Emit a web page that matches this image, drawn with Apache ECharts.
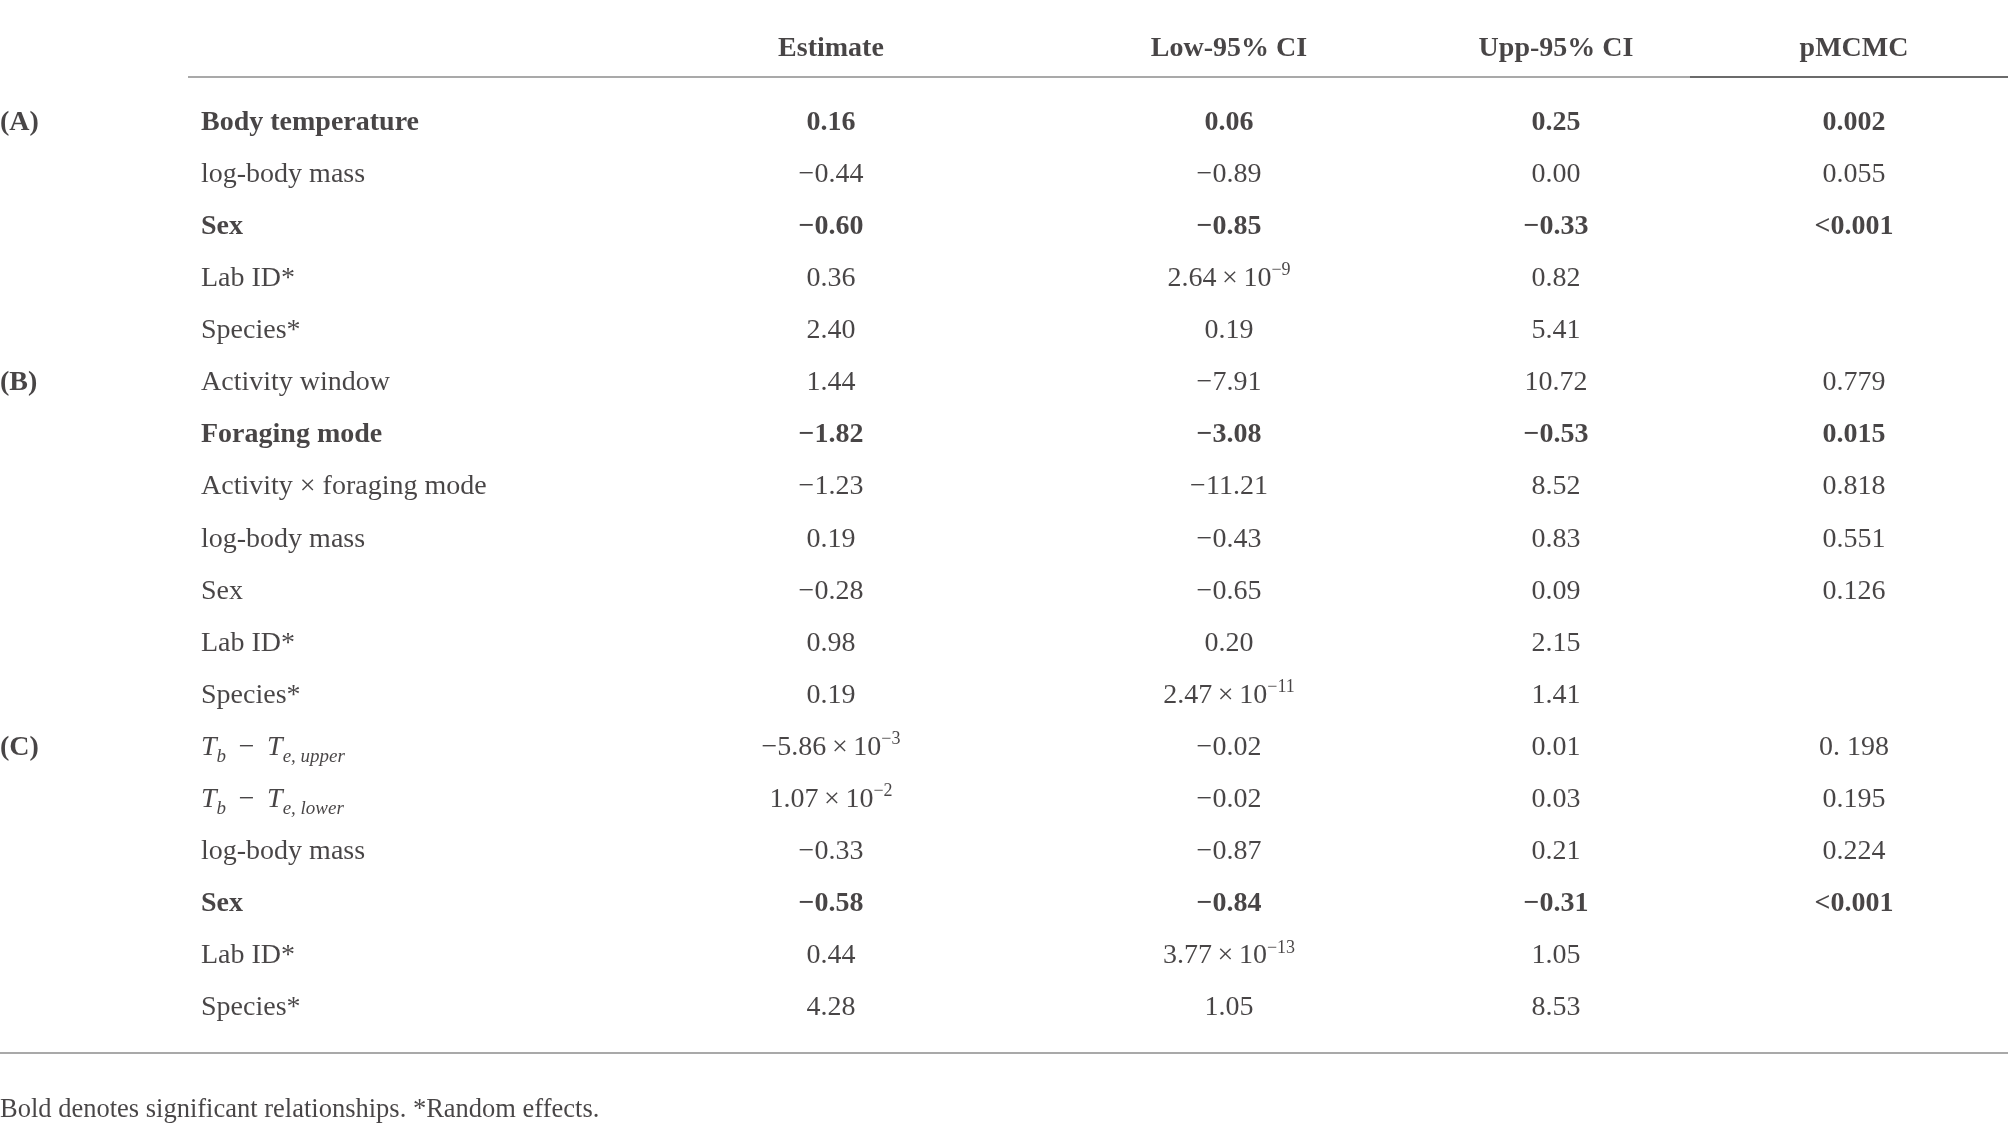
<!DOCTYPE html>
<html>
<head>
<meta charset="utf-8">
<script src="https://cdn.jsdelivr.net/npm/echarts@6/dist/echarts.min.js"></script>
<style>
  html, body { margin: 0; padding: 0; background: #fff; }
  #chart { width: 2008px; height: 1129px; }
</style>
</head>
<body>
<div id="chart"></div>
<script>
// table contents
const headers = ['Estimate', 'Low-95% CI', 'Upp-95% CI', 'pMCMC']
const groups = ['(A)', '', '', '', '', '(B)', '', '', '', '', '', '', '(C)', '', '', '', '', '']
const terms = ['Body temperature', 'log-body mass', 'Sex', 'Lab ID*', 'Species*',
  'Activity window', 'Foraging mode', 'Activity × foraging mode', 'log-body mass', 'Sex', 'Lab ID*', 'Species*',
  'T_b − T_e, upper', 'T_b − T_e, lower', 'log-body mass', 'Sex', 'Lab ID*', 'Species*']
const estimate = ['0.16', '−0.44', '−0.60', '0.36', '2.40', '1.44', '−1.82', '−1.23', '0.19', '−0.28', '0.98', '0.19',
  '−5.86\u2009×\u200910^−3', '1.07\u2009×\u200910^−2', '−0.33', '−0.58', '0.44', '4.28']
const lowCI = ['0.06', '−0.89', '−0.85', '2.64\u2009×\u200910^−9', '0.19', '−7.91', '−3.08', '−11.21', '−0.43', '−0.65', '0.20',
  '2.47\u2009×\u200910^−11', '−0.02', '−0.02', '−0.87', '−0.84', '3.77\u2009×\u200910^−13', '1.05']
const uppCI = ['0.25', '0.00', '−0.33', '0.82', '5.41', '10.72', '−0.53', '8.52', '0.83', '0.09', '2.15', '1.41',
  '0.01', '0.03', '0.21', '−0.31', '1.05', '8.53']
const pMCMC = ['0.002', '0.055', '<0.001', '', '', '0.779', '0.015', '0.818', '0.551', '0.126', '', '',
  '0. 198', '0.195', '0.224', '<0.001', '', '']
const boldRows = [0, 2, 6, 15]
const footnote = 'Bold denotes significant relationships. *Random effects.'

// layout (pixels across, rows down)
const colX = [0, 201, 831, 1229, 1556, 1854]
const colAlign = ['left', 'left', 'center', 'center', 'center', 'center']
const headerRow = -1.41
const footRow = 18.95

const font = '"Liberation Serif", "DejaVu Serif", serif'
const ink = '#1a1718'
const fs = 28

const rich = {
  n: { fontFamily: font, fontSize: fs, color: ink, lineHeight: 34 },
  b: { fontFamily: font, fontSize: fs, color: ink, lineHeight: 34, fontWeight: 'bold' },
  it: { fontFamily: font, fontSize: fs, color: ink, lineHeight: 34, fontStyle: 'italic' },
  sup: { fontFamily: font, fontSize: 18, color: ink, lineHeight: 34, verticalAlign: 'top' },
  sub: { fontFamily: font, fontSize: 19, color: ink, lineHeight: 38, verticalAlign: 'bottom', fontStyle: 'italic' },
  f: { fontFamily: font, fontSize: 26.5, color: ink, lineHeight: 34 }
}

function fmt (s, bold) {
  const n = bold ? 'b' : 'n'
  if (!s) return ''
  if (s.indexOf('^') >= 0) {
    const [base, exp] = s.split('^')
    return '{' + n + '|' + base + '}{sup|' + exp + '}'
  }
  if (s.indexOf('_') >= 0) {
    return s.split(' − ').map(p => {
      const [v, sub] = p.split('_')
      return '{it|' + v + '}{sub|' + sub + '}'
    }).join('{' + n + '| \u2009−\u2009 }')
  }
  return '{' + n + '|' + s + '}'
}

const columns = [groups, terms, estimate, lowCI, uppCI, pMCMC]

function textSeries (name, points, align) {
  return {
    name,
    type: 'scatter',
    symbolSize: 0,
    silent: true,
    animation: false,
    data: points,
    label: {
      show: true,
      position: 'inside',
      align,
      verticalAlign: 'middle',
      offset: [0, 2],
      formatter: p => p.data.text,
      rich
    }
  }
}

const series = columns.map((col, c) => textSeries('col' + c,
  col.map((s, i) => ({
    value: [colX[c], i],
    text: fmt(s, c === 0 || boldRows.includes(i))
  })), colAlign[c]))

series.push(textSeries('header',
  headers.map((h, k) => ({ value: [colX[k + 2], headerRow], text: fmt(h, true) })), 'center'))

const foot = textSeries('foot', [{ value: [0, footRow], text: '{f|' + footnote + '}' }], 'left')
foot.markLine = {
  silent: true,
  symbol: 'none',
  animation: false,
  label: { show: false },
  data: [
    [{ coord: [188, -0.83], lineStyle: { color: '#a9a9a9', width: 2, type: 'solid' } }, { coord: [1690, -0.83] }],
    [{ coord: [1690, -0.83], lineStyle: { color: '#6b6b6b', width: 2, type: 'solid' } }, { coord: [2008, -0.83] }],
    [{ coord: [0, 17.9], lineStyle: { color: '#a9a9a9', width: 2, type: 'solid' } }, { coord: [2008, 17.9] }]
  ]
}
series.push(foot)

const chart = echarts.init(document.getElementById('chart'))
chart.setOption({
  backgroundColor: '#fff',
  animation: false,
  grid: { left: 0, right: 0, top: 0, bottom: 0 },
  xAxis: { type: 'value', min: 0, max: 2008, show: false },
  yAxis: { type: 'value', min: -2.31, max: 19.36, inverse: true, show: false },
  series
})
</script>
</body>
</html>
